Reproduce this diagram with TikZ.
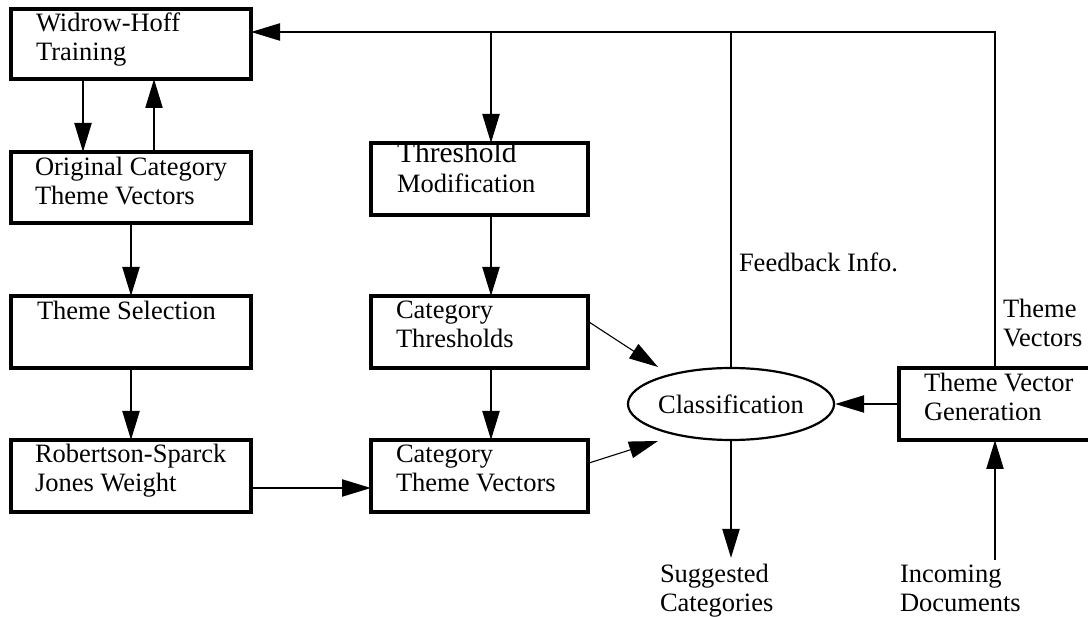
\documentclass[tikz,border=0pt]{standalone}
\usepackage{fontspec}
\setmainfont{Liberation Serif}
\usetikzlibrary{arrows.meta,calc,shapes.geometric}
\newcommand{\mytl}[1]{\begin{tabular}[t]{@{}l@{}}#1\end{tabular}}
\tikzset{
  box/.style={draw, line width=3.2pt, rectangle, inner sep=0pt, outer sep=0pt, anchor=north west},
  txt/.style={inner sep=0pt, outer sep=0pt, anchor=base west, font=\fontsize{26.5}{28.5}\selectfont},
  arr/.style={line width=2.2pt, -{Triangle[length=29pt,width=17pt]}},
  thin arr/.style={line width=1.1pt, -{Triangle[length=29pt,width=17pt]}},
  ln/.style={line width=2.2pt},
}
\begin{document}
\begin{tikzpicture}[x=1pt,y=-1pt]
\useasboundingbox (0,0) rectangle (1088,617);
\clip (0,0) rectangle (1088,617);
% boxes
\node[box, minimum width=240, minimum height=70] (wh) at (11,9) {};
\node[box, minimum width=240, minimum height=71] (oc) at (11,152) {};
\node[box, minimum width=240, minimum height=72] (ts) at (11,296) {};
\node[box, minimum width=240, minimum height=72] (rs) at (11,440) {};
\node[box, minimum width=217, minimum height=72] (tm) at (371,143) {};
\node[box, minimum width=217, minimum height=72] (ct) at (371,296) {};
\node[box, minimum width=217, minimum height=72] (cv) at (371,440) {};
\node[box, minimum width=205, minimum height=72] (tvg) at (899,368) {};
\node[draw, ellipse, line width=2.2pt, minimum width=192, minimum height=72, inner sep=0pt,
      font=\fontsize{26.5}{28.5}\selectfont] (cls) at (731,404) {Classification};
% box texts
\node[txt] (whT) at ($(wh.north west)+(25,23)$) {\mytl{Widrow-Hoff\\Training}};
\node[txt] (ocT) at ($(oc.north west)+(24,24)$) {\mytl{Original Category\\Theme Vectors}};
\node[txt] (tsT) at ($(ts.north west)+(26,24)$) {Theme Selection};
\node[txt] (rsT) at ($(rs.north west)+(24,23)$) {\mytl{Robertson-Sparck\\Jones Weight}};
\node[txt] (tmT) at ($(tm.north west)+(26,20)$) {\mytl{{\fontsize{29.5}{30}\selectfont Threshold}\\[1pt]Modification}};
\node[txt] (ctT) at ($(ct.north west)+(25,23)$) {\mytl{Category\\Thresholds}};
\node[txt] (cvT) at ($(cv.north west)+(25,23)$) {\mytl{Category\\Theme Vectors}};
\node[txt] (tvgT) at ($(tvg.north west)+(25,24)$) {\mytl{Theme Vector\\Generation}};
% free labels
\node[txt] (fb) at (739,272) {Feedback Info.};
\node[txt] (tv) at (1003,318) {\mytl{Theme\\Vectors}};
\node[txt] (sug) at (660,583) {\mytl{Suggested\\Categories}};
\node[txt] (inc) at (900,583) {\mytl{Incoming\\Documents}};
% helper coordinates
\coordinate (top) at (0,32);
\coordinate (sugTop) at (731,558);
\coordinate (incTop) at (995,560);
\coordinate (tvgN) at ($(tvg.north west)+(96,0)$);
\coordinate (tvgS) at ($(tvg.south west)+(96,0)$);
\coordinate (tmN) at ($(tm.north west)+(120,0)$);
\coordinate (tmS) at ($(tm.south west)+(120,0)$);
\coordinate (ctN) at ($(ct.north west)+(120,0)$);
\coordinate (ctS) at ($(ct.south west)+(120,0)$);
\coordinate (cvN) at ($(cv.north west)+(120,0)$);
\coordinate (rsE) at ($(rs.south east)+(0,-24)$);
% connectors
\draw[arr] (tvgN) -- (tvgN |- top) -- (wh.east |- top);
\draw[ln] (cls.north) -- (cls.north |- top);
\draw[arr] (tmN |- top) -- (tmN);
\draw[arr] ($(wh.south west)+(72,0)$) -- ($(oc.north west)+(72,0)$);
\draw[arr] ($(oc.north west)+(143,0)$) -- ($(wh.south west)+(143,0)$);
\draw[arr] (oc.south) -- (ts.north);
\draw[arr] (ts.south) -- (rs.north);
\draw[arr] (rsE) -- (cv.west |- rsE);
\draw[arr] (tmS) -- (ctN);
\draw[arr] (ctS) -- (cvN);
\draw[thin arr] ($(ct.north east)+(1,26)$) -- ($(cls.center)+(-73,-37)$);
\draw[thin arr] ($(cv.north east)+(1,23)$) -- ($(cls.center)+(-73,37)$);
\draw[arr] (tvg.west) -- (cls.east);
\draw[arr] (cls.south) -- (sugTop);
\draw[arr] (incTop) -- (tvgS);
\end{tikzpicture}
\end{document}
